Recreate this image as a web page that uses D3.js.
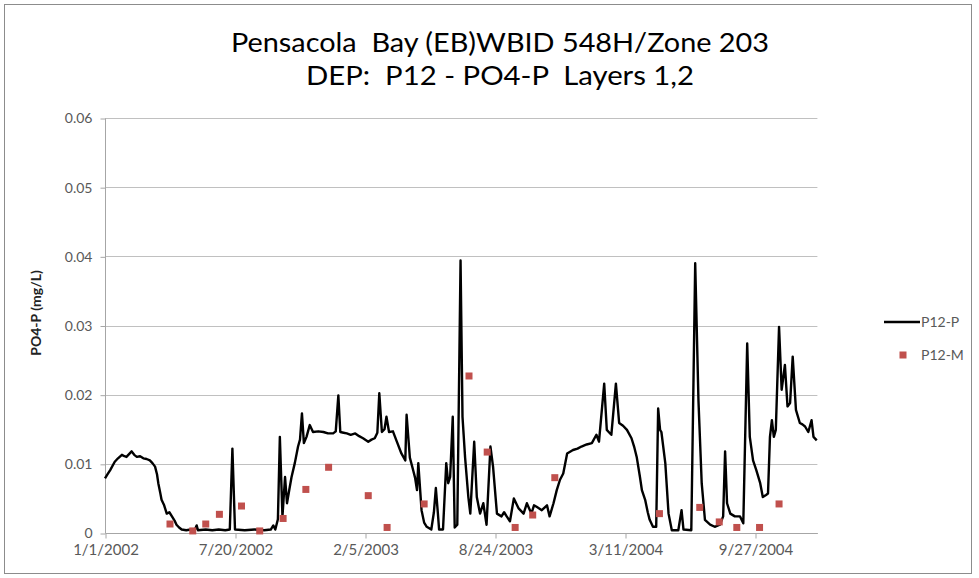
<!DOCTYPE html>
<html>
<head>
<meta charset="utf-8">
<script src="https://cdn.jsdelivr.net/npm/d3@7"></script>
<style>
  html, body { margin: 0; padding: 0; background: #fff; }
  svg { display: block; }
  text { white-space: pre; }
</style>
</head>
<body>
<svg id="chart" width="979" height="578"></svg>
<script>
// ---- DATA ----
const titleLines = ["Pensacola  Bay (EB)WBID 548H/Zone 203", "DEP:  P12 - PO4-P  Layers 1,2"];
const yAxisTitle = "PO4-P (mg/L)";
const seriesNames = ["P12-P", "P12-M"];
const xTickLabels = ["1/1/2002", "7/20/2002", "2/5/2003", "8/24/2003", "3/11/2004", "9/27/2004"];
const yTickValues = [0, 0.01, 0.02, 0.03, 0.04, 0.05, 0.06];
const yTickLabels = ["0", "0.01", "0.02", "0.03", "0.04", "0.05", "0.06"];
const startDate = "1/1/2002";
const endDate = "1/1/2005";

// P12-P (model line): days since 1/1/2002 and PO4-P values
const pDays = [0,4,8,15,20,26,30,33,37,41,45,49,54,59,64,69,73,77,80,82,85,87,91,95,99,103,107,110,114,118,125,132,138,141,143,155,165,175,185,192,196,200,215,230,245,255,259,262,266,269,273,277,280,284,287,292,297,300,303,306,310,315,320,328,336,343,351,355,359,362,367,372,378,385,391,397,405,410,415,419,422,426,430,433,437,443,449,456,462,464,469,474,477,480,482,487,491,495,502,506,509,512,514,520,525,528,531,535,538,542,547,550,554,559,562,568,572,577,582,587,593,597,603,610,614,618,623,629,636,644,649,656,660,664,672,680,684,690,695,700,705,711,720,727,733,741,749,756,760,768,772,776,779,786,791,797,803,810,814,818,823,826,831,835,838,843,848,851,854,856,862,867,872,882,887,890,902,908,913,918,923,931,938,946,951,954,957,962,969,977,982,988,992,997,1002,1008,1012,1017,1020,1023,1026,1029,1032,1037,1041,1046,1050,1054,1058,1063,1069,1073,1077,1082,1087,1090,1095];
const pValues = [0.0079,0.0085,0.0091,0.0103,0.0108,0.0113,0.0111,0.0110,0.0114,0.0118,0.0113,0.0110,0.0111,0.0108,0.0107,0.0105,0.0101,0.0096,0.0085,0.0072,0.0058,0.0048,0.0040,0.0028,0.0030,0.0024,0.0018,0.0012,0.0008,0.0005,0.0004,0.0005,0.0004,0.0011,0.0004,0.0005,0.0004,0.0005,0.0004,0.0005,0.0122,0.0005,0.0004,0.0005,0.0004,0.0005,0.0011,0.0005,0.0020,0.0139,0.0024,0.0081,0.0043,0.0065,0.0081,0.0101,0.0125,0.0135,0.0173,0.0130,0.0139,0.0156,0.0146,0.0147,0.0146,0.0144,0.0144,0.0147,0.0199,0.0146,0.0145,0.0144,0.0142,0.0144,0.0140,0.0137,0.0132,0.0135,0.0137,0.0145,0.0202,0.0146,0.0150,0.0168,0.0146,0.0147,0.0132,0.0115,0.0105,0.0171,0.0109,0.0091,0.0080,0.0062,0.0101,0.0033,0.0015,0.0009,0.0005,0.0030,0.0065,0.0030,0.0005,0.0005,0.0101,0.0072,0.0081,0.0168,0.0008,0.0012,0.0394,0.0168,0.0109,0.0052,0.0028,0.0132,0.0052,0.0028,0.0043,0.0012,0.0125,0.0096,0.0028,0.0024,0.0030,0.0024,0.0017,0.0050,0.0036,0.0028,0.0043,0.0028,0.0040,0.0038,0.0033,0.0040,0.0024,0.0043,0.0062,0.0077,0.0086,0.0115,0.0120,0.0122,0.0125,0.0128,0.0130,0.0142,0.0132,0.0216,0.0149,0.0145,0.0142,0.0216,0.0159,0.0155,0.0149,0.0137,0.0125,0.0110,0.0081,0.0062,0.0048,0.0030,0.0019,0.0009,0.0009,0.0180,0.0149,0.0146,0.0101,0.0028,0.0004,0.0004,0.0033,0.0005,0.0004,0.0390,0.0192,0.0072,0.0019,0.0012,0.0009,0.0012,0.0024,0.0118,0.0043,0.0028,0.0024,0.0024,0.0014,0.0274,0.0139,0.0105,0.0091,0.0072,0.0052,0.0055,0.0057,0.0139,0.0163,0.0139,0.0149,0.0298,0.0207,0.0243,0.0183,0.0188,0.0255,0.0178,0.0159,0.0157,0.0154,0.0146,0.0163,0.0139,0.0134];

// P12-M (measurements)
const mDays = [100,135,155,176,210,238,274,309,344,405,434,491,560,588,631,658,692,853,915,945,972,1007,1037];
const mValues = [0.0013,0.0003,0.0013,0.0027,0.0039,0.0003,0.0021,0.0063,0.0095,0.0054,0.0008,0.0042,0.0227,0.0117,0.0008,0.0026,0.0080,0.0028,0.0037,0.0016,0.0008,0.0008,0.0042];

// ---- DRAW ----
const svg = d3.select("#chart");
const plot = { left: 105, right: 817.4, top: 118, bottom: 533 };

const parseMDY = s => { const [m, d, y] = s.split("/").map(Number); return new Date(Date.UTC(y, m - 1, d)); };
const t0 = parseMDY(startDate);
const dayToDate = n => d3.utcDay.offset(t0, n);

const x = d3.scaleUtc().domain([t0, parseMDY(endDate)]).range([plot.left, plot.right]);
const y = d3.scaleLinear().domain([0, 0.06]).range([plot.bottom, plot.top]);

const font = "Lato, 'Open Sans', sans-serif";

// outer border
svg.append("rect").attr("x", 4.5).attr("y", 4.5).attr("width", 967).attr("height", 569)
  .attr("fill", "#fff").attr("stroke", "#8c8c8c").attr("stroke-width", 1);

// gridlines
svg.append("g").selectAll("line").data(yTickValues.filter(v => v > 0)).join("line")
  .attr("x1", plot.left).attr("x2", plot.right)
  .attr("y1", d => Math.round(y(d)) + 0.5).attr("y2", d => Math.round(y(d)) + 0.5)
  .attr("stroke", "#c0c0c0").attr("stroke-width", 1.2);

// y axis
const yAxis = d3.axisLeft(y).tickValues(yTickValues).tickFormat((d, i) => yTickLabels[i]).tickSize(5).tickPadding(8);
const gy = svg.append("g").attr("transform", `translate(${plot.left + 0.5},0.5)`).call(yAxis);
gy.select(".domain").attr("stroke", "#a6a6a6").attr("d", `M0,${plot.top}V${plot.bottom}`);
gy.selectAll(".tick line").attr("stroke", "#a6a6a6");
gy.selectAll(".tick text").attr("fill", "#595959").style("font-family", font).style("font-size", "14px");

// x axis
const xTicks = xTickLabels.map(parseMDY);
const xAxis = d3.axisBottom(x).tickValues(xTicks).tickFormat((d, i) => xTickLabels[i]).tickSize(5).tickPadding(6);
const gx = svg.append("g").attr("transform", `translate(0.5,${plot.bottom + 0.5})`).call(xAxis);
gx.select(".domain").attr("stroke", "#a6a6a6").attr("d", `M${plot.left},0H${plot.right}`);
gx.selectAll(".tick line").attr("stroke", "#a6a6a6");
gx.selectAll(".tick text").attr("fill", "#595959").style("font-family", font).style("font-size", "15px");

// line series
const lineData = pDays.map((d, i) => ({ date: dayToDate(d), v: pValues[i] }));
svg.append("path").datum(lineData)
  .attr("fill", "none").attr("stroke", "#000").attr("stroke-width", 2.4).attr("stroke-linejoin", "round")
  .attr("d", d3.line().x(d => x(d.date)).y(d => y(d.v)));

// markers
const ms = 7;
const markData = mDays.map((d, i) => ({ date: dayToDate(d), v: mValues[i] }));
svg.append("g").selectAll("rect").data(markData).join("rect")
  .attr("x", d => x(d.date) - ms / 2).attr("y", d => y(d.v) - ms / 2)
  .attr("width", ms).attr("height", ms).attr("fill", "#c0504d");

// titles
const tl = [{ text: titleLines[0], y: 52, w: 538 }, { text: titleLines[1], y: 85, w: 388 }];
tl.forEach(t => {
  svg.append("text").attr("x", 500).attr("y", t.y).attr("text-anchor", "middle")
    .attr("xml:space", "preserve")
    .style("font-family", font).style("font-size", "27.5px").attr("fill", "#000")
    .attr("textLength", t.w).attr("lengthAdjust", "spacingAndGlyphs").text(t.text);
});

// y axis title
svg.append("text").attr("transform", `translate(41,313) rotate(-90)`).attr("text-anchor", "middle")
  .style("font-family", font).style("font-size", "14px").style("font-weight", "bold")
  .attr("fill", "#222").text(yAxisTitle);

// legend
const lg = svg.append("g").style("font-family", font).style("font-size", "14px").attr("fill", "#595959");
lg.append("line").attr("x1", 884).attr("x2", 920).attr("y1", 322).attr("y2", 322).attr("stroke", "#000").attr("stroke-width", 2.4);
lg.append("text").attr("x", 921).attr("y", 322).attr("dy", "0.35em").text(seriesNames[0]);
lg.append("rect").attr("x", 903 - ms / 2).attr("y", 355 - ms / 2).attr("width", ms).attr("height", ms).attr("fill", "#c0504d");
lg.append("text").attr("x", 921).attr("y", 355).attr("dy", "0.35em").text(seriesNames[1]);
</script>
</body>
</html>
